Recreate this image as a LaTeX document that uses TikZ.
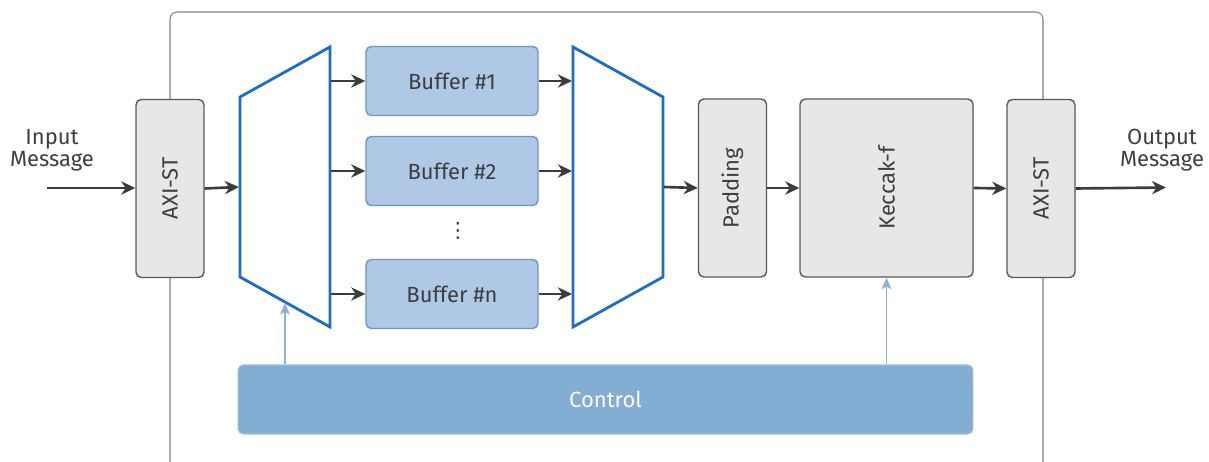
\documentclass[tikz,border=0pt]{standalone}
\usepackage{fontspec}
\setmainfont{Fira Sans}
\newfontfamily\dotsfont{DejaVu Sans}
\usepackage{tikz}
\usetikzlibrary{arrows.meta, positioning, calc}
\definecolor{boxgray}{RGB}{230,231,232}
\definecolor{edgegray}{RGB}{88,89,91}
\definecolor{txtdark}{RGB}{62,62,64}
\definecolor{bufblue}{RGB}{174,200,229}
\definecolor{bufedge}{RGB}{106,150,200}
\definecolor{ctrlblue}{RGB}{132,173,212}
\definecolor{muxblue}{RGB}{28,110,194}
\definecolor{arrowdark}{RGB}{60,60,60}
\definecolor{arrowlight}{RGB}{141,176,214}
\definecolor{framegray}{RGB}{128,128,128}
\tikzset{
  graybox/.style={rectangle, draw=edgegray, fill=boxgray,
    minimum width=1.36cm, minimum height=3.56cm, inner sep=0pt,
    rounded corners=3pt, line width=0.8pt, text=txtdark,
    font=\fontsize{12.5}{14}\selectfont},
  bufblock/.style={rectangle, draw=bufedge, fill=bufblue,
    minimum width=3.44cm, minimum height=1.38cm, inner sep=0pt,
    rounded corners=3pt, line width=0.8pt, text=txtdark,
    font=\fontsize{12.5}{14}\selectfont},
  ctrlblock/.style={rectangle, fill=ctrlblue, draw=ctrlblue!80!white,
    minimum width=14.7cm, minimum height=1.38cm, inner sep=0pt,
    rounded corners=3pt, line width=0.6pt, text=white,
    font=\fontsize{12.5}{14}\selectfont},
  msglabel/.style={align=center, text=txtdark, inner sep=0pt,
    font=\fontsize{12.5}{12.5}\selectfont},
  muxshape/.style={draw=muxblue, fill=white, line width=1.6pt, line join=miter},
  arrow/.style={-{Stealth[length=8pt, width=7.5pt, inset=2.5pt]}, line width=1.5pt, color=arrowdark},
  ctrlarrow/.style={-{Stealth[length=6.5pt, width=5.5pt, inset=1.5pt]}, line width=0.9pt, color=arrowlight},
  frame/.style={draw=framegray, line width=0.6pt, rounded corners=4pt}
}

\begin{document}
\begin{tikzpicture}[x=0.02cm, y=0.02cm]
  \useasboundingbox (0,0) rectangle (1209,462);

  % Core boundary (open at the bottom)
  \draw[frame] (170,-10) -- (170,450) -- (1043,450) -- (1043,-10);

  % Stream interfaces
  \node[graybox] (axiin) at (170,273.5) {\rotatebox{90}{AXI-ST}};
  \node[graybox] (axiout) at (1041,273.5) {\rotatebox{90}{AXI-ST}};

  % Demultiplexer and multiplexer
  \draw[muxshape] (240,185) -- (240,365) -- (330,415) -- (330,135) -- cycle;
  \draw[muxshape] (573,135) -- (573,415) -- (663,365) -- (663,185) -- cycle;
  \coordinate (dmxin) at (239,275);
  \coordinate (dmxout) at (331,274);
  \coordinate (mxin) at (572,274);
  \coordinate (mxout) at (664,275);
  \coordinate (dmxctl) at (285,159);

  % Buffers
  \node[bufblock] (buf1) at (452,381) {Buffer \#1};
  \node[bufblock] (buf2) at (452,291) {Buffer \#2};
  \node[bufblock] (bufn) at (452,168) {Buffer \#n};
  \node[text=txtdark, font=\dotsfont\fontsize{12}{12}\selectfont, inner sep=0pt] (dots) at (458,231) {⋮};

  % Hash pipeline
  \node[graybox] (pad) at (732.5,274) {\rotatebox{90}{Padding}};
  \node[graybox, minimum width=3.46cm] (kec) at (886.5,274) {\rotatebox{90}{Keccak-f}};

  % Control unit
  \node[ctrlblock] (ctrl) at (605.5,62.5) {Control};

  % Messages in and out
  \node[msglabel] (inmsg) at (52,312) {Input\\Message};
  \node[msglabel] (outmsg) at (1162,312) {Output\\Message};
  \coordinate (insrc) at (47,274);
  \coordinate (outdst) at (1166,274.5);

  % Data path
  \draw[arrow] (insrc) -- (axiin.west |- insrc);
  \draw[arrow] (axiin.east) -- (dmxin);
  \foreach \b in {buf1, buf2, bufn} {
    \draw[arrow] (\b.west -| dmxout) -- (\b.west);
    \draw[arrow] (\b.east) -- (\b.east -| mxin);
  }
  \draw[arrow] (mxout) -- (pad.west);
  \draw[arrow] (pad.east) -- (kec.west);
  \draw[arrow] (kec.east) -- (axiout.west);
  \draw[arrow] (axiout.east) -- (outdst);

  % Control signals
  \draw[ctrlarrow] (ctrl.north -| dmxctl) -- (dmxctl);
  \draw[ctrlarrow] (ctrl.north -| kec.south) -- (kec.south);
\end{tikzpicture}
\end{document}
